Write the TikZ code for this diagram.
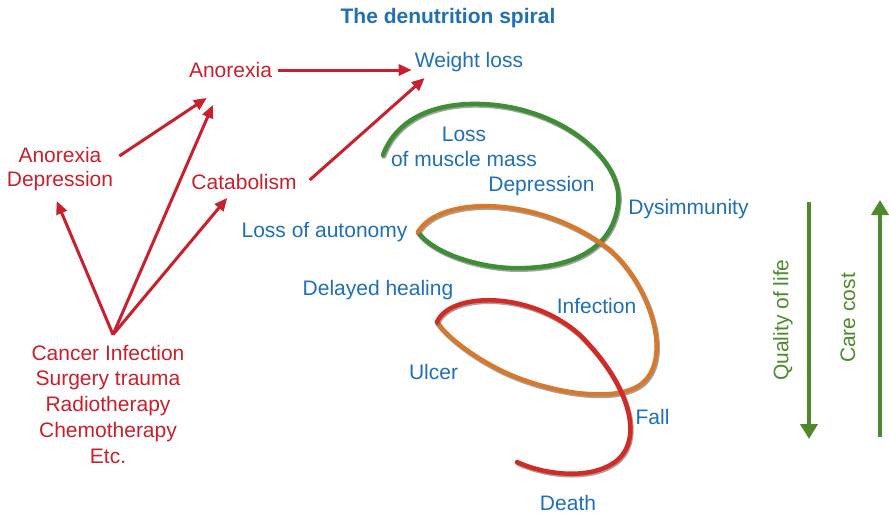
\documentclass[tikz,border=0pt]{standalone}
\usepackage{fontspec}
\setmainfont{Liberation Sans}
\usetikzlibrary{arrows.meta,calc}
\definecolor{tred}{HTML}{C8202D}
\definecolor{tblue}{HTML}{1F70B5}
\definecolor{sgreen}{HTML}{3E8E36}
\definecolor{sorange}{HTML}{D8782C}
\definecolor{sred}{HTML}{D42A26}
\definecolor{agreen}{HTML}{4E8A2C}
\begin{document}
\begin{tikzpicture}[x=1pt,y=-1pt,
  txt/.style={inner sep=0pt, align=center, font=\fontsize{21}{25}\selectfont},
  redtxt/.style={txt, text=tred},
  bluetxt/.style={txt, text=tblue},
  redarrow/.style={draw=tred, line width=3pt, -{Triangle[length=13pt,width=11pt]}},
  greenarrow/.style={draw=agreen, line width=4.5pt, -{Triangle[length=15pt,width=17pt]}},
  strand/.style={line width=4.5pt, line cap=round,
     preaction={draw=black!60, line width=5pt, line cap=round, opacity=0.6,
       transform canvas={shift={(0.8pt,-1.3pt)}}}}
]
\useasboundingbox (0,0) rectangle (889,515);
\fill[white] (0,0) rectangle (889,515);

% title
\node[txt, text=tblue, font=\fontsize{21}{25}\selectfont\bfseries] (title) at (448,18) {The denutrition spiral};

% red causes
\node[redtxt] (anorexia) at (230.5,70) {Anorexia};
\node[bluetxt] (weight) at (469,62) {Weight loss};
\node[redtxt, font=\fontsize{21}{24}\selectfont] (anodep) at (60,169) {Anorexia\\Depression};
\node[redtxt] (catab) at (244,182) {Catabolism};
\node[redtxt, font=\fontsize{21}{25.75}\selectfont] (cancer) at (108,404) {Cancer Infection\\Surgery trauma\\Radiotherapy\\Chemotherapy\\Etc.};

\coordinate (src) at ($(cancer.north)+(5,-10)$);
\coordinate (anoIn1) at ($(anorexia.south west)+(18,20)$);
\coordinate (anoIn2) at ($(anorexia.south west)+(24,27)$);
\coordinate (adOut) at ($(anodep.north east)+(6,9)$);
\coordinate (adIn) at ($(anodep.south west)+(50,10)$);
\coordinate (catIn) at ($(catab.south west)+(36,8)$);
\coordinate (catOut) at ($(catab.east)+(13,-2)$);
\coordinate (wIn) at ($(weight.south west)+(10,6)$);

\draw[redarrow] (anorexia.east) ++(6,0) -- ($(weight.west |- anorexia.east)+(-3,0)$);
\draw[redarrow] (catOut) -- (wIn);
\draw[redarrow] (adOut) -- (anoIn1);
\draw[redarrow] (src) -- (anoIn2);
\draw[redarrow] (src) -- (adIn);
\draw[redarrow] (src) -- (catIn);

% spiral
\draw[strand, draw=sgreen] (383,155) .. controls (400,110) and (450,103) .. (480,104)
   .. controls (560,106) and (625,160) .. (618,205)
   .. controls (612,250) and (570,270) .. (510,268)
   .. controls (470,266) and (430,250) .. (418,232);
\draw[strand, draw=sorange] (418,232) .. controls (440,195) and (540,195) .. (610,250)
   .. controls (650,285) and (675,360) .. (640,385)
   .. controls (610,405) and (540,390) .. (500,370)
   .. controls (470,355) and (445,335) .. (437,322);
\draw[strand, draw=sred] (437,322) .. controls (450,292) and (530,290) .. (580,335)
   .. controls (630,385) and (645,440) .. (615,462)
   .. controls (590,480) and (545,475) .. (517,462);

% spiral labels
\node[bluetxt] (muscle) at (464,147) {Loss\\of muscle mass};
\node[bluetxt] (depr) at (541.5,186) {Depression};
\node[bluetxt] (dysimm) at (688.5,209) {Dysimmunity};
\node[bluetxt] (autonomy) at (324.5,232) {Loss of autonomy};
\node[bluetxt] (healing) at (378,290) {Delayed healing};
\node[bluetxt] (infection) at (596.5,306) {Infection};
\node[bluetxt] (ulcer) at (433.5,372) {Ulcer};
\node[bluetxt] (fall) at (652.5,417) {Fall};
\node[bluetxt] (death) at (568,503) {Death};

% right arrows
\coordinate (qTop) at (809,202);
\coordinate (qBot) at (809,439);
\coordinate (cBot) at (880,437);
\coordinate (cTop) at (880,200);
\draw[greenarrow] (qTop) -- (qBot);
\draw[greenarrow] (cBot) -- (cTop);
\node[txt, text=agreen, rotate=90] (quality) at (783,320) {Quality of life};
\node[txt, text=agreen, rotate=90] (care) at (848,318) {Care cost};
\end{tikzpicture}
\end{document}
